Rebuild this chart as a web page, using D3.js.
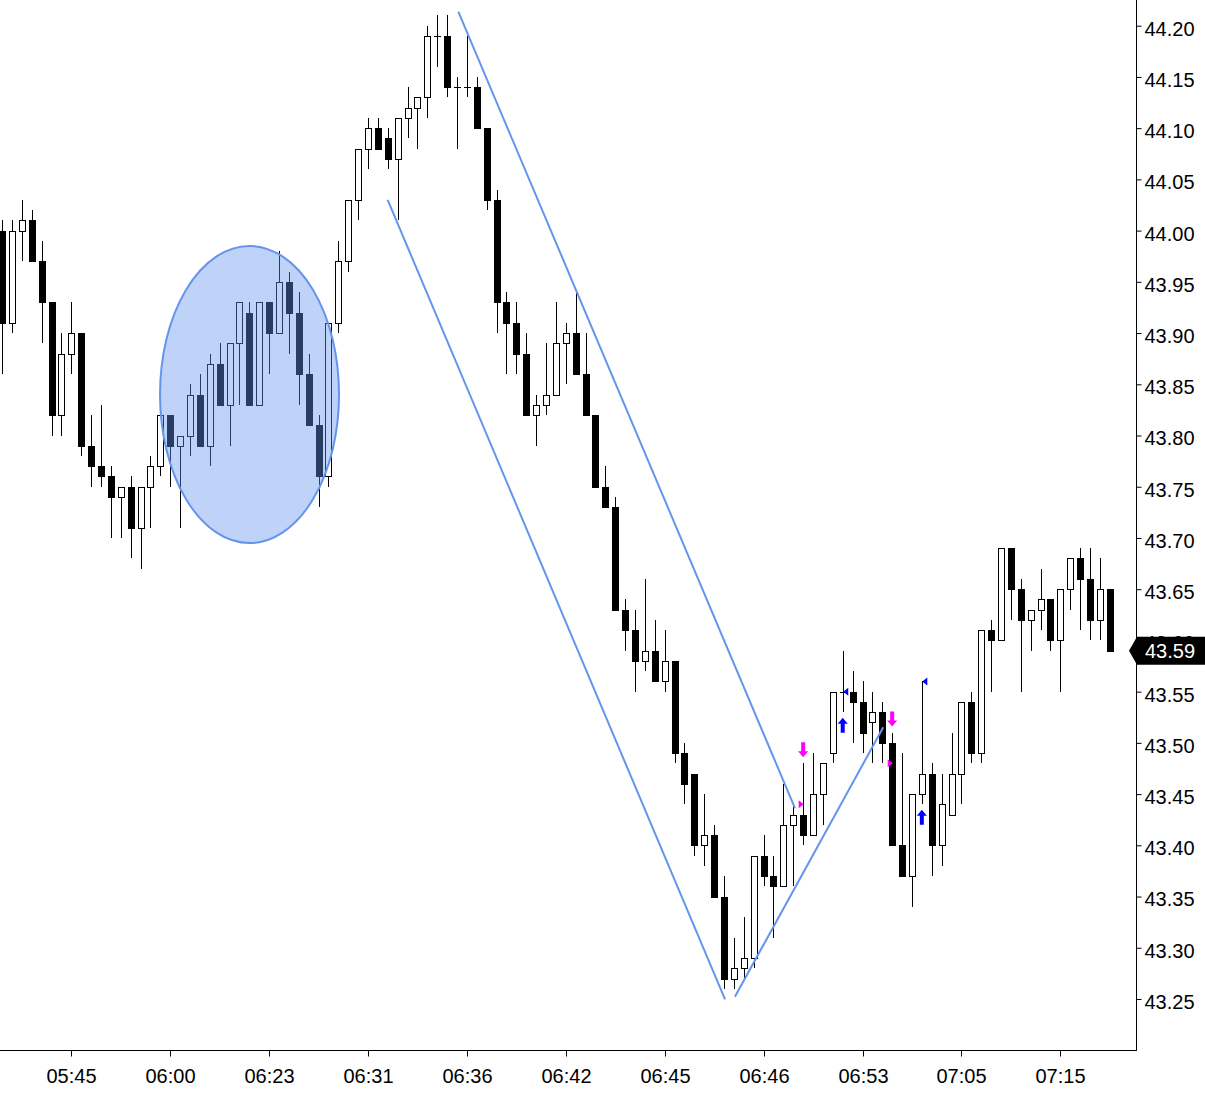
<!DOCTYPE html>
<html><head><meta charset="utf-8">
<script src="https://cdn.jsdelivr.net/npm/d3@7"></script>
<style>html,body{margin:0;padding:0;background:#fff;} svg{display:block;}</style>
</head><body>
<svg id="chart" width="1205" height="1093"></svg>
<script>
// ---- data (OHLC per bar) ----
const opens  = [44.00,43.91,44.00,44.01,43.97,43.93,43.82,43.88,43.90,43.79,43.77,43.76,43.74,43.75,43.71,43.75,43.77,43.82,43.79,43.80,
                43.84,43.79,43.87,43.83,43.89,43.92,43.83,43.93,43.90,43.95,43.92,43.86,43.81,43.76,43.91,43.97,44.03,44.08,44.10,44.09,
                44.07,44.11,44.12,44.13,44.19,44.19,44.14,44.14,44.14,44.10,44.03,43.93,43.91,43.88,43.82,43.83,43.84,43.89,43.90,43.86,
                43.82,43.75,43.73,43.63,43.61,43.58,43.59,43.56,43.58,43.49,43.47,43.40,43.41,43.35,43.27,43.28,43.29,43.39,43.37,43.36,
                43.42,43.43,43.41,43.45,43.49,43.55,43.55,43.54,43.52,43.53,43.50,43.40,43.37,43.45,43.47,43.40,43.43,43.47,43.54,43.49,
                43.61,43.60,43.69,43.65,43.62,43.63,43.64,43.60,43.65,43.68,43.66,43.62,43.65];
const highs  = [44.01,44.01,44.03,44.02,43.99,43.93,43.90,43.93,43.90,43.82,43.83,43.77,43.75,43.76,43.75,43.78,43.82,43.82,43.80,43.85,
                43.86,43.88,43.89,43.89,43.93,43.93,43.93,43.93,43.98,43.96,43.94,43.88,43.82,43.91,43.99,44.03,44.08,44.11,44.11,44.10,
                44.11,44.14,44.13,44.20,44.21,44.21,44.15,44.19,44.15,44.10,44.04,43.94,43.93,43.90,43.84,43.89,43.93,43.91,43.94,43.90,
                43.82,43.77,43.74,43.64,43.63,43.66,43.62,43.61,43.58,43.50,43.47,43.45,43.42,43.37,43.31,43.33,43.39,43.41,43.39,43.46,
                43.44,43.48,43.49,43.48,43.55,43.59,43.57,43.56,43.55,43.54,43.51,43.49,43.45,43.56,43.48,43.47,43.51,43.54,43.55,43.61,
                43.62,43.69,43.69,43.66,43.63,43.67,43.64,43.65,43.68,43.69,43.69,43.68,43.65];
const lows   = [43.86,43.90,43.97,43.97,43.89,43.80,43.80,43.86,43.78,43.75,43.75,43.70,43.70,43.68,43.67,43.71,43.76,43.75,43.71,43.78,
                43.79,43.77,43.83,43.79,43.83,43.83,43.83,43.86,43.90,43.88,43.83,43.81,43.73,43.75,43.90,43.96,44.01,44.06,44.08,44.06,
                44.01,44.09,44.08,44.11,44.16,44.13,44.08,44.13,44.10,44.02,43.90,43.86,43.86,43.82,43.79,43.82,43.84,43.85,43.86,43.82,
                43.75,43.73,43.63,43.59,43.55,43.57,43.56,43.55,43.48,43.44,43.39,43.38,43.35,43.26,43.26,43.27,43.28,43.36,43.31,43.36,
                43.36,43.40,43.41,43.42,43.48,43.53,43.50,43.49,43.48,43.48,43.40,43.37,43.34,43.44,43.37,43.38,43.43,43.44,43.48,43.48,
                43.55,43.60,43.62,43.55,43.59,43.61,43.59,43.55,43.63,43.61,43.60,43.60,43.59];
const closes = [43.91,44.00,44.01,43.97,43.93,43.82,43.88,43.90,43.79,43.77,43.76,43.74,43.75,43.71,43.75,43.77,43.82,43.79,43.80,43.84,
                43.79,43.87,43.83,43.89,43.93,43.83,43.93,43.90,43.95,43.92,43.86,43.81,43.76,43.91,43.97,44.03,44.08,44.10,44.08,44.07,
                44.11,44.12,44.13,44.19,44.19,44.14,44.14,44.14,44.10,44.03,43.93,43.91,43.88,43.82,43.83,43.84,43.89,43.90,43.86,43.82,
                43.75,43.73,43.63,43.61,43.58,43.59,43.56,43.58,43.49,43.46,43.40,43.41,43.35,43.27,43.28,43.29,43.39,43.37,43.36,43.42,
                43.43,43.41,43.45,43.48,43.55,43.55,43.54,43.51,43.53,43.50,43.40,43.37,43.45,43.47,43.40,43.44,43.47,43.54,43.49,43.61,
                43.60,43.69,43.65,43.62,43.63,43.64,43.60,43.65,43.68,43.66,43.62,43.65,43.59];

const xTickIndex  = [7,17,27,37,47,57,67,77,87,97,107];
const xTickLabels = ["05:45","06:00","06:23","06:31","06:36","06:42","06:45","06:46","06:53","07:05","07:15"];
const yTickValues = [43.25,43.30,43.35,43.40,43.45,43.50,43.55,43.60,43.65,43.70,43.75,43.80,43.85,43.90,43.95,44.00,44.05,44.10,44.15,44.20];

// annotations in (bar index, price) terms
const trendStartIdx   = [46.13, 38.99, 74.10];
const trendStartPrice = [44.2137, 44.0299, 43.2522];
const trendEndIdx     = [80.17, 73.10, 89.10];
const trendEndPrice   = [43.4364, 43.2497, 43.5152];
const ellipseIdx   = [15.97, 34.07];
const ellipsePrice = [43.695, 43.985];
const sellArrowBars = [81, 90];
const buyArrowBars  = [85, 93];
const sellMarkBars  = [81, 90];
const sellMarkPrice = [43.44, 43.48];
const buyMarkBars   = [85, 93];
const buyMarkPrice  = [43.55, 43.56];

// ---- layout ----
const W = 1205, H = 1093, plotW = 1137, plotH = 1050;
const n = closes.length;
const x = d3.scaleLinear().domain([0, n - 1]).range([2.07, 2.07 + (n - 1) * 9.89]);
const y = d3.scaleLinear().domain([43.25, 44.20]).range([999, 25.7]);

const svg = d3.select("#chart");
svg.append("defs").append("clipPath").attr("id","plot")
  .append("rect").attr("x",0).attr("y",0).attr("width",plotW).attr("height",plotH);
const g = svg.append("g").attr("clip-path","url(#plot)");

const bars = d3.range(n).map(i => ({i, o:opens[i], h:highs[i], l:lows[i], c:closes[i]}));
const cx = d => Math.round(x(d.i)) + 0.5;
const bw = 6;

const cg = g.append("g").attr("shape-rendering","crispEdges");
cg.selectAll("line.wick").data(bars).join("line").attr("class","wick")
  .attr("x1",cx).attr("x2",cx)
  .attr("y1",d => Math.round(y(d.h))).attr("y2",d => Math.round(y(d.l)))
  .attr("stroke","#000").attr("stroke-width",1);
cg.selectAll("rect.body").data(bars.filter(d => d.o !== d.c)).join("rect").attr("class","body")
  .attr("x",d => cx(d) - bw/2)
  .attr("y",d => Math.round(y(Math.max(d.o,d.c))) + 0.5)
  .attr("width",bw)
  .attr("height",d => Math.round(y(Math.min(d.o,d.c))) - Math.round(y(Math.max(d.o,d.c))))
  .attr("fill",d => d.c > d.o ? "#fff" : "#000")
  .attr("stroke","#000").attr("stroke-width",1);
cg.selectAll("line.doji").data(bars.filter(d => d.o === d.c)).join("line").attr("class","doji")
  .attr("x1",d => cx(d) - bw/2 - 0.5).attr("x2",d => cx(d) + bw/2 + 0.5)
  .attr("y1",d => Math.round(y(d.o)) + 0.5).attr("y2",d => Math.round(y(d.o)) + 0.5)
  .attr("stroke","#000").attr("stroke-width",1);

// ellipse overlay
g.append("ellipse")
  .attr("cx",(x(ellipseIdx[0]) + x(ellipseIdx[1]))/2)
  .attr("cy",(y(ellipsePrice[0]) + y(ellipsePrice[1]))/2)
  .attr("rx",(x(ellipseIdx[1]) - x(ellipseIdx[0]))/2)
  .attr("ry",(y(ellipsePrice[0]) - y(ellipsePrice[1]))/2)
  .attr("fill","rgba(100,149,237,0.41)")
  .attr("stroke","#6495ED").attr("stroke-width",2);

// trend lines
g.selectAll("line.trend").data(d3.range(trendStartIdx.length)).join("line").attr("class","trend")
  .attr("x1",k => x(trendStartIdx[k])).attr("y1",k => y(trendStartPrice[k]))
  .attr("x2",k => x(trendEndIdx[k])).attr("y2",k => y(trendEndPrice[k]))
  .attr("stroke","#6495ED").attr("stroke-width",2);

// signal arrows
const downArrow = "M-2,-15L2,-15L2,-6L5,-6L0,0L-5,-6L-2,-6Z";
const upArrow   = "M-2,15L2,15L2,6L5,6L0,0L-5,6L-2,6Z";
g.selectAll("path.sell").data(sellArrowBars).join("path").attr("class","sell")
  .attr("d",downArrow).attr("fill","#FF00FF")
  .attr("transform",i => `translate(${x(i)},${y(highs[i]) - 6})`);
g.selectAll("path.buy").data(buyArrowBars).join("path").attr("class","buy")
  .attr("d",upArrow).attr("fill","#0000FF")
  .attr("transform",i => `translate(${x(i)},${y(lows[i]) + 5.5})`);
// small triangles
g.selectAll("path.smark").data(d3.range(sellMarkBars.length)).join("path").attr("class","smark")
  .attr("d","M0,0L-5,-4L-5,4Z").attr("fill","#FF00FF")
  .attr("transform",k => `translate(${x(sellMarkBars[k]) + 0.5},${y(sellMarkPrice[k])})`);
g.selectAll("path.bmark").data(d3.range(buyMarkBars.length)).join("path").attr("class","bmark")
  .attr("d","M0,0L5,-4L5,4Z").attr("fill","#0000FF")
  .attr("transform",k => `translate(${x(buyMarkBars[k]) + 0.5},${y(buyMarkPrice[k])})`);

// ---- axes ----
const font = "'Liberation Sans', Arial, sans-serif";
const yAxis = svg.append("g").attr("transform",`translate(${plotW - 0.5},0)`)
  .call(d3.axisRight(y).tickValues(yTickValues).tickFormat(d3.format(".2f")).tickSize(5).tickSizeOuter(0).tickPadding(3));
yAxis.select(".domain").remove();
yAxis.selectAll("text").attr("font-family",font).attr("font-size",20).attr("fill","#000").attr("dy","0.47em");
yAxis.selectAll("line").attr("stroke","#000");

const xAxis = svg.append("g").attr("transform",`translate(0,${plotH + 0.5})`)
  .call(d3.axisBottom(x).tickValues(xTickIndex).tickFormat((d,k) => xTickLabels[k]).tickSize(6).tickSizeOuter(0).tickPadding(12));
xAxis.select(".domain").remove();
xAxis.selectAll("text").attr("font-family",font).attr("font-size",20).attr("fill","#000");
xAxis.selectAll("line").attr("stroke","#000");
xAxis.selectAll(".tick").attr("transform",d => `translate(${Math.round(x(d)) + 0.5},0)`);

svg.append("line").attr("x1",plotW - 0.5).attr("x2",plotW - 0.5).attr("y1",0).attr("y2",plotH + 1)
  .attr("stroke","#000").attr("stroke-width",1);
svg.append("line").attr("x1",0).attr("x2",plotW).attr("y1",plotH + 0.5).attr("y2",plotH + 0.5)
  .attr("stroke","#000").attr("stroke-width",1);

// last price tag
const lastY = y(closes[n - 1]);
svg.append("path")
  .attr("d",`M${plotW - 8},${lastY}L${plotW},${lastY - 14}L${W},${lastY - 14}L${W},${lastY + 14}L${plotW},${lastY + 14}Z`)
  .attr("fill","#000");
svg.append("text").attr("x",plotW + 8).attr("y",lastY).attr("dy","0.36em")
  .attr("font-family",font).attr("font-size",20).attr("fill","#fff")
  .text(d3.format(".2f")(closes[n - 1]));
</script>
</body></html>
